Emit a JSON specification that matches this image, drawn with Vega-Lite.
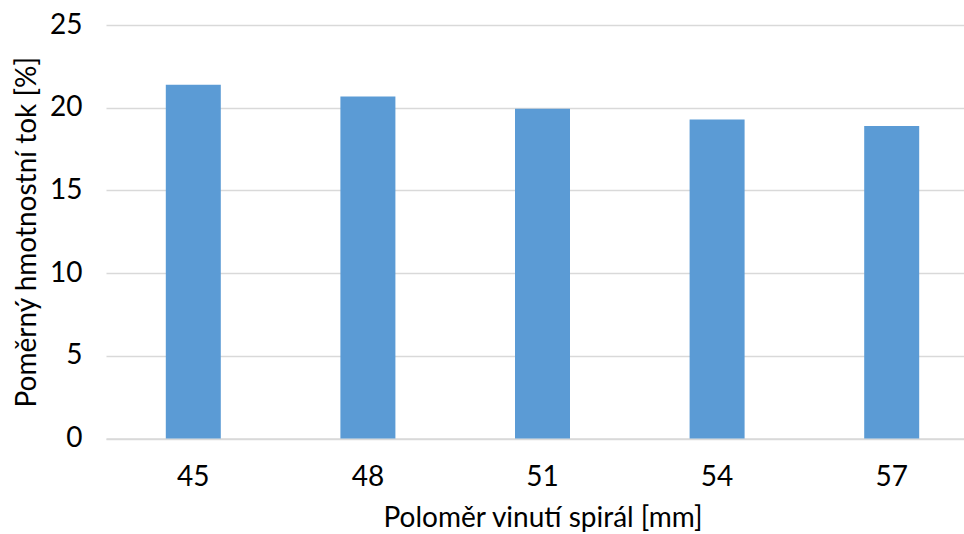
{
  "$schema": "https://vega.github.io/schema/vega-lite/v6.json",
  "autosize": {"type": "none"},
  "padding": {"left": 106, "top": 25, "right": 0, "bottom": 96},
  "width": 873,
  "height": 413.5,
  "background": "white",
  "config": {
    "view": {"stroke": null},
    "font": "Lato",
    "axis": {"labelFont": "Lato", "titleFont": "Lato", "labelColor": "#000000", "titleColor": "#000000", "titleFontWeight": "normal", "labelFontSize": 28, "titleFontSize": 28}
  },
  "data": {
    "values": [
      {"r": "45", "v": 21.39},
      {"r": "48", "v": 20.67},
      {"r": "51", "v": 19.94},
      {"r": "54", "v": 19.29},
      {"r": "57", "v": 18.89}
    ]
  },
  "mark": {"type": "bar", "color": "#5B9BD5"},
  "encoding": {
    "x": {
      "field": "r", "type": "ordinal", "sort": null,
      "scale": {"paddingInner": 0.685, "paddingOuter": 0.3425},
      "axis": {"title": "Poloměr vinutí spirál [mm]", "labelAngle": 0, "ticks": false, "domainColor": "#d9d9d9", "domainWidth": 1.5, "labelPadding": 25, "titlePadding": 13}
    },
    "y": {
      "field": "v", "type": "quantitative",
      "scale": {"domain": [0, 25]},
      "axis": {"title": "Poměrný hmotnostní tok [%]", "values": [0, 5, 10, 15, 20, 25], "ticks": false, "domain": false, "gridColor": "#d9d9d9", "gridWidth": 1.5, "labelPadding": 24, "titlePadding": 8}
    }
  }
}
